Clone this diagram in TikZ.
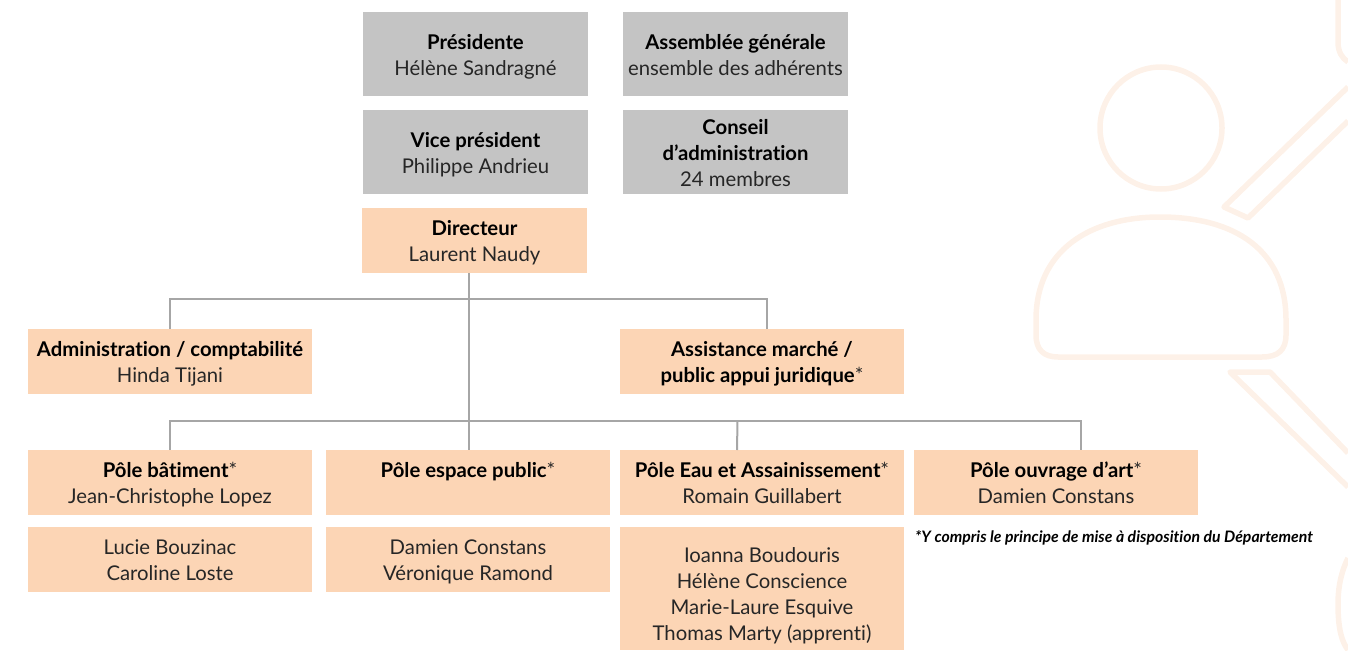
\documentclass[tikz,border=0pt]{standalone}
\usepackage{fontspec}
\setmainfont{Lato}[Ligatures=NoCommon]
\definecolor{peach}{HTML}{FCD5B5}
\definecolor{greybox}{HTML}{C4C4C4}
\definecolor{linkgrey}{HTML}{A6A6A6}
\definecolor{decor}{HTML}{FDF1E8}
\definecolor{bodytext}{HTML}{262626}
\newcommand{\hd}[1]{\strut{\color{black}\bfseries #1}}
\newcommand{\pl}[1]{\strut #1}
\newcommand{\up}{\rule{0pt}{24.2pt}}
\tikzset{
  x=1pt,y=-1pt,
  boxbase/.style={inner sep=0pt,align=center,text=bodytext,font=\fontsize{20.3}{26}\selectfont},
  greyb/.style={boxbase,fill=greybox,minimum width=225pt,minimum height=84pt},
  chief/.style={boxbase,fill=peach,minimum width=225pt,minimum height=65pt},
  peachb/.style={boxbase,fill=peach,minimum width=284pt,minimum height=65pt},
  link/.style={draw=linkgrey,line width=2pt},
  deco/.style={draw=decor,line width=5.5pt,line join=round},
}
\begin{document}
\begin{tikzpicture}
\useasboundingbox (0,0) rectangle (1348,650);
% background figure
\draw[deco] (1161,128) circle (61);
\draw[deco] (1036,320) .. controls (1036,250) and (1090,217) .. (1160,217) .. controls (1235,217) and (1286,250) .. (1286,320) -- (1286,335) .. controls (1286,350) and (1278,357) .. (1262,357) -- (1058,357) .. controls (1044,357) and (1036,350) .. (1036,335) -- cycle;
\draw[deco] (1348,87) -- (1224,207) -- (1248,218) -- (1348,121);
\draw[deco] (1348,453) -- (1270,372) -- (1230,372) -- (1348,487);
\draw[deco] (1338,0) -- (1338,42) .. controls (1338,52) and (1342,58) .. (1348,62);
\draw[deco] (1348,558) .. controls (1342,570) and (1338,585) .. (1338,604) .. controls (1338,630) and (1342,642) .. (1348,650);
% boxes
\node[greyb] (pres) at (475.5,54) {\up\hd{Présidente}\\\pl{Hélène Sandragné}};
\node[greyb] (ag) at (735.5,54) {\up\hd{Assemblée générale}\\\pl{ensemble des adhérents}};
\node[greyb] (vp) at (475.5,152) {\up\hd{Vice président}\\\pl{Philippe Andrieu}};
\node[greyb] (ca) at (735.5,152) {\up\hd{Conseil}\\\hd{d’administration}\\\pl{24 membres}};
\node[chief] (dir) at (474.5,240.5) {\up\hd{Directeur}\\\pl{Laurent Naudy}};
\node[peachb] (adm) at (170,361.5) {\up\hd{Administration / comptabilité}\\\pl{Hinda Tijani}};
\node[peachb] (ass) at (762,361.5) {\up\hd{Assistance marché /}\\\hd{public appui juridique}*};
\node[peachb] (pb) at (170,482.5) {\up\hd{Pôle bâtiment}*\\\pl{Jean-Christophe Lopez}};
\node[peachb] (pe) at (468,482.5) {\up\hd{Pôle espace public}*\\\strut};
\node[peachb] (pa) at (762,482.5) {\up\hd{Pôle Eau et Assainissement}*\\\pl{Romain Guillabert}};
\node[peachb] (po) at (1056,482.5) {\up\hd{Pôle ouvrage d’art}*\\\pl{Damien Constans}};
\node[peachb] (tb) at (170,559.5) {\up\pl{Lucie Bouzinac}\\\pl{Caroline Loste}};
\node[peachb] (te) at (468,559.5) {\up\pl{Damien Constans}\\\pl{Véronique Ramond}};
\node[peachb,minimum height=123pt] (ta) at (762,588.5) {\rule{0pt}{33.2pt}Ioanna Boudouris\\\pl{Hélène Conscience}\\\pl{Marie-Laure Esquive}\\\pl{Thomas Marty (apprenti)}};
\node[anchor=west,inner sep=0pt,text=black,font=\fontsize{15.8}{16}\selectfont\bfseries\itshape] (note) at (915,537.5) {*Y compris le principe de mise à disposition du Département};
% connectors
\coordinate (tassist) at (767,329);
\coordinate (teau) at (737,450);
\coordinate (touvr) at (1081,450);
\coordinate (dirout) at (469,273);
\coordinate (peIn) at (469,450);
\draw[link] (dirout) -- (peIn);
\draw[link] (adm.north) |- (469,299) -| (tassist);
\draw[link] (pb.north) |- (469,421);
\draw[link] (469,421) -| (touvr);
\draw[link] (teau) -- (737.5,421);
\end{tikzpicture}
\end{document}
